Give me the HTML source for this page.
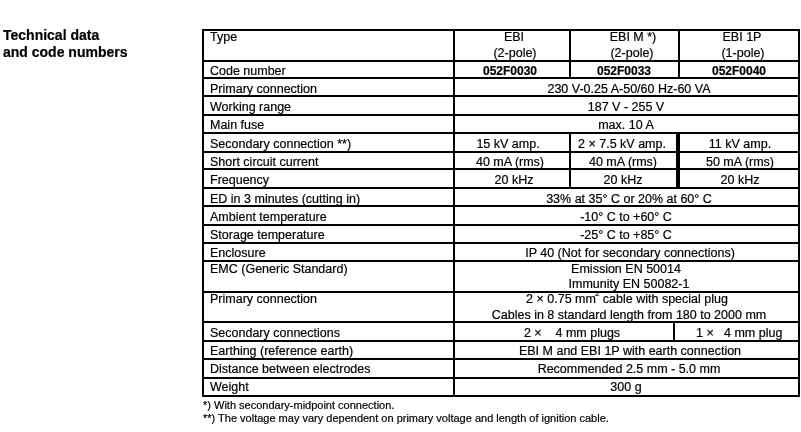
<!DOCTYPE html>
<html><head><meta charset="utf-8"><style>
html,body{margin:0;padding:0;background:#fff;width:801px;height:432px;overflow:hidden;position:relative}
.t{position:absolute;white-space:pre;will-change:transform;-webkit-text-stroke:0.2px #000;font-family:"Liberation Sans",sans-serif;color:#000}
.c{text-align:center;width:400px}
.n{font-size:12.5px;line-height:15px}
.b{font-size:12px;line-height:15px;font-weight:bold}
.h{position:absolute;left:202px;width:598px;height:2px;background:#000}
.v{position:absolute;background:#000}
</style></head><body>
<div class="t" style="left:3px;top:27px;font-size:14px;line-height:17px;font-weight:bold">Technical data<br>and code numbers</div>
<div class="t n" style="left:210.3px;top:30px">Type</div>
<div class="t n" style="left:210.3px;top:64px">Code number</div>
<div class="t n" style="left:210.3px;top:82px">Primary connection</div>
<div class="t n" style="left:210.3px;top:100px">Working range</div>
<div class="t n" style="left:210.3px;top:118px">Main fuse</div>
<div class="t n" style="left:210.3px;top:137px">Secondary connection **)</div>
<div class="t n" style="left:210.3px;top:155px">Short circuit current</div>
<div class="t n" style="left:210.3px;top:173px">Frequency</div>
<div class="t n" style="left:210.3px;top:192px">ED in 3 minutes (cutting in)</div>
<div class="t n" style="left:210.3px;top:210px">Ambient temperature</div>
<div class="t n" style="left:210.3px;top:228px">Storage temperature</div>
<div class="t n" style="left:210.3px;top:246px">Enclosure</div>
<div class="t n" style="left:210.3px;top:262px">EMC (Generic Standard)</div>
<div class="t n" style="left:210.3px;top:292px">Primary connection</div>
<div class="t n" style="left:210.3px;top:326px">Secondary connections</div>
<div class="t n" style="left:210.3px;top:344px">Earthing (reference earth)</div>
<div class="t n" style="left:210.3px;top:362px">Distance between electrodes</div>
<div class="t n" style="left:210.3px;top:380px">Weight</div>
<div class="t n c" style="left:313.8px;top:30px">EBI</div>
<div class="t n c" style="left:314.9px;top:46px">(2-pole)</div>
<div class="t n c" style="left:433.4px;top:30px">EBI M *)</div>
<div class="t n c" style="left:431.8px;top:46px">(2-pole)</div>
<div class="t n c" style="left:541.8px;top:30px">EBI 1P</div>
<div class="t n c" style="left:542.7px;top:46px">(1-pole)</div>
<div class="t n c" style="left:428.5px;top:82px">230 V-0.25 A-50/60 Hz-60 VA</div>
<div class="t n c" style="left:426.2px;top:100px">187 V - 255 V</div>
<div class="t n c" style="left:426.0px;top:118px">max. 10 A</div>
<div class="t n c" style="left:307.8px;top:137px">15 kV amp.</div>
<div class="t n c" style="left:422.0px;top:137px">2 × 7.5 kV amp.</div>
<div class="t n c" style="left:540.3px;top:137px">11 kV amp.</div>
<div class="t n c" style="left:310.3px;top:155px">40 mA (rms)</div>
<div class="t n c" style="left:422.9px;top:155px">40 mA (rms)</div>
<div class="t n c" style="left:540.3px;top:155px">50 mA (rms)</div>
<div class="t n c" style="left:314.0px;top:173px">20 kHz</div>
<div class="t n c" style="left:423.0px;top:173px">20 kHz</div>
<div class="t n c" style="left:540.0px;top:173px">20 kHz</div>
<div class="t n c" style="left:428.7px;top:192px">33% at 35° C or 20% at 60° C</div>
<div class="t n c" style="left:426.0px;top:210px">-10° C to +60° C</div>
<div class="t n c" style="left:426.0px;top:228px">-25° C to +85° C</div>
<div class="t n c" style="left:429.8px;top:246px">IP 40 (Not for secondary connections)</div>
<div class="t n c" style="left:426.0px;top:262px">Emission EN 50014</div>
<div class="t n c" style="left:429.0px;top:277px">Immunity EN 50082-1</div>
<div class="t n c" style="left:426.8px;top:292px">2 × 0.75 mm  cable with special plug</div>
<div class="t n c" style="left:428.5px;top:308px">Cables in 8 standard length from 180 to 2000 mm</div>
<div class="t n c" style="left:372.3px;top:326px">2 ×    4 mm plugs</div>
<div class="t n c" style="left:429.5px;top:344px">EBI M and EBI 1P with earth connection</div>
<div class="t n c" style="left:429.0px;top:362px">Recommended 2.5 mm - 5.0 mm</div>
<div class="t n c" style="left:426.0px;top:380px">300 g</div>
<div class="t b c" style="left:310.0px;top:64px">052F0030</div>
<div class="t b c" style="left:424.3px;top:64px">052F0033</div>
<div class="t b c" style="left:539.0px;top:64px">052F0040</div>
<div class="t n" style="left:696px;top:326px">1 ×</div>
<div class="t n" style="left:724px;top:326px">4 mm plug</div>
<div class="t" style="left:595px;top:289px;font-size:8px;line-height:10px">2</div>
<div class="h" style="top:29px"></div>
<div class="h" style="top:60px"></div>
<div class="h" style="top:77px"></div>
<div class="h" style="top:95px"></div>
<div class="h" style="top:114px"></div>
<div class="h" style="top:132px"></div>
<div class="h" style="top:151px"></div>
<div class="h" style="top:168px"></div>
<div class="h" style="top:187px"></div>
<div class="h" style="top:205px"></div>
<div class="h" style="top:224px"></div>
<div class="h" style="top:242px"></div>
<div class="h" style="top:260px"></div>
<div class="h" style="top:291px"></div>
<div class="h" style="top:321px"></div>
<div class="h" style="top:340px"></div>
<div class="h" style="top:358px"></div>
<div class="h" style="top:377px"></div>
<div class="h" style="top:395px"></div>
<div class="v" style="left:202px;top:29px;width:2px;height:368px"></div>
<div class="v" style="left:798px;top:29px;width:2px;height:368px"></div>
<div class="v" style="left:453px;top:29px;width:2px;height:368px"></div>
<div class="v" style="left:569px;top:29px;width:2px;height:50px"></div>
<div class="v" style="left:678px;top:29px;width:2px;height:50px"></div>
<div class="v" style="left:569px;top:132px;width:2px;height:57px"></div>
<div class="v" style="left:676px;top:132px;width:4px;height:57px"></div>
<div class="v" style="left:673px;top:321px;width:2px;height:21px"></div>
<div class="t" style="left:203px;top:399px;font-size:11px;line-height:13px">*) With secondary-midpoint connection.<br>**) The voltage may vary dependent on primary voltage and length of ignition cable.</div>
</body></html>
